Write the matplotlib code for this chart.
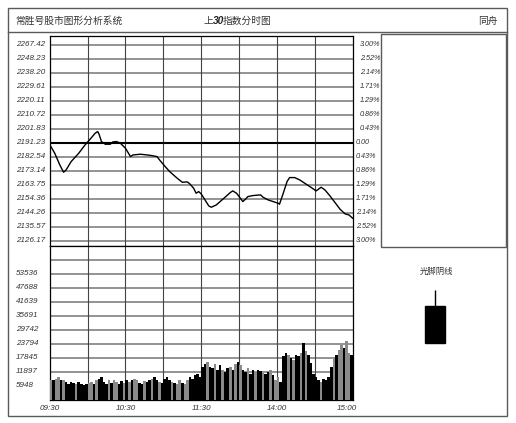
import matplotlib
matplotlib.use('Agg')
import matplotlib.pyplot as plt
from matplotlib.transforms import blended_transform_factory
from matplotlib.patches import Rectangle
from matplotlib.lines import Line2D

plt.rcParams['font.family'] = ['Liberation Sans', 'Noto Sans CJK SC', 'DejaVu Sans']

# ---------------- data ----------------
price_left_labels = ['2267.42', '2248.23', '2238.20', '2229.61', '2220.11', '2210.72', '2201.83',
                     '2191.23', '2182.54', '2173.14', '2163.75', '2154.36', '2144.26', '2135.57', '2126.17']
pct_labels = ['3.00%', '2.52%', '2.14%', '1.71%', '1.29%', '0.86%', '0.43%',
              '0.00', '0.43%', '0.86%', '1.29%', '1.71%', '2.14%', '2.52%', '3.00%']
prev_close = 2191.23
price_step = 9.395
vol_step = 5948
vol_labels = ['53536', '47688', '41639', '35691', '29742', '23794', '17845', '11897', '5948']
time_labels = ['09:30', '10:30', '11:30', '14:00', '15:00']
time_label_pos = [0, 60, 120, 180, 240]

time_min = [0, 4, 8, 11, 13, 17, 23, 28, 32, 36, 38, 39, 41, 44, 48, 50, 53, 56, 60, 64, 66, 72,
            79, 85, 87, 91, 95, 101, 105, 109, 111, 114, 116, 118, 120, 123, 126, 128, 132, 138,
            143, 145, 148, 151, 153, 155, 157, 161, 167, 169, 173, 177, 181, 182, 185, 188, 190,
            194, 198, 204, 208, 211, 215, 218, 222, 226, 230, 234, 237, 240]
price = [2189.98, 2184.16, 2176.33, 2171.41, 2172.97, 2178.57, 2184.16, 2189.75, 2193.56,
         2197.58, 2198.70, 2197.13, 2191.99, 2190.20, 2190.20, 2191.77, 2191.99, 2190.87,
         2187.52, 2181.92, 2183.04, 2183.49, 2182.82, 2181.92, 2179.69, 2175.66, 2171.86,
         2167.38, 2164.70, 2164.92, 2163.58, 2160.67, 2157.32, 2158.43, 2156.87, 2152.84,
         2148.81, 2147.92, 2149.49, 2153.96, 2157.76, 2158.88, 2157.32, 2153.96, 2151.72,
         2153.29, 2155.08, 2155.75, 2156.20, 2154.63, 2152.84, 2151.72, 2150.60, 2149.93,
         2157.32, 2165.14, 2167.83, 2167.83, 2166.26, 2162.91, 2160.67, 2158.88, 2161.34,
         2159.55, 2155.52, 2151.05, 2146.58, 2143.45, 2142.77, 2140.54]

# volume per 2-minute bin (120 bins)
volume = [8200, 8500, 8900, 9600, 8500, 8200, 7500,
          6800, 7500, 7100, 6500, 7500, 6800, 6100, 6500,
          7100, 7500, 6800, 8200, 8900, 9600,
          7500, 6800, 8200, 7100, 8500, 7500, 6800, 7900, 7100,
          8200, 7500, 8500, 8900, 8200, 7100, 6800, 7900, 7500, 8200, 8900, 9600, 8200, 7500, 7100,
          8900, 9600, 8200, 7500, 7100, 6800, 8200, 7100,
          6800, 8200, 9600, 8900, 10300, 11000, 9600,
          13900, 15300, 16000, 13900, 13200, 15300, 12500, 14600,
          12500, 11800, 13200, 13900, 12500, 15300, 16000,
          14600, 12500, 11800, 13200, 11000, 12500, 11800, 12700, 12200, 11300, 11000, 11800, 12500, 10300, 8200,
          9600, 7500,
          18400, 19800, 19100, 17700, 17000, 19100, 18400, 19800, 24000, 20500, 19100, 15600, 11000,
          9600, 8200, 7500, 8900, 8200, 9600, 13900,
          17700, 19100, 21200, 23300, 21900, 24700, 19800, 19100]
vol_color_flags = ("gkggkgk" "kkkgkkkk" "ggkgkk" "kkgkggkkg" "kgkggkkgkkgkkgk" "kkkgkggk"
                   "ggkkkkk" "kkgkkgkk" "gkkgkgk" "gkkgkkgkkgkkgkg" "gk" "kkgkgkkgkgkkk"
                   "kkgkkkk" "gkggkggk")

candle_title = '光脚阴线'
candle_open, candle_high, candle_low, candle_close = 3.7, 5.3, 0.0, 0.0

# ---------------- figure ----------------
W, H = 516, 423
fig = plt.figure(figsize=(W / 100, H / 100), dpi=100)


def fx(px):
    return px / W


def fy(py):
    return 1 - py / H


def axes_px(x0, y0, x1, y1):
    return fig.add_axes([x0 / W, 1 - y1 / H, (x1 - x0) / W, (y1 - y0) / H])


frame_c = '#5a5a5a'
fig.add_artist(Rectangle((fx(8), fy(416)), (507 - 8) / W, (416 - 8) / H, transform=fig.transFigure,
                         fill=False, ec=frame_c, lw=1.0))
fig.add_artist(Line2D([fx(8), fx(507)], [fy(32), fy(32)], transform=fig.transFigure, color=frame_c, lw=1.0))
fig.add_artist(Rectangle((fx(381), fy(246.7)), (505.7 - 381) / W, (246.7 - 34) / H,
                         transform=fig.transFigure, fill=False, ec=frame_c, lw=1.0))

# title bar
fig.text(fx(15), fy(21), '常胜号股市图形分析系统', fontsize=7, color='#333333',
         family=['Noto Sans CJK SC'], ha='left', va='center')
fig.text(fx(203), fy(21), '上', fontsize=7, color='#333333', family=['Noto Sans CJK SC'], ha='left', va='center')
fig.text(fx(212.5), fy(21), '30', fontsize=7.3, color='#222222', fontweight='bold', style='italic',
         ha='left', va='center')
fig.text(fx(223), fy(21), '指数分时图', fontsize=7, color='#333333', family=['Noto Sans CJK SC'],
         ha='left', va='center')
fig.text(fx(498), fy(21), '同舟', fontsize=7, color='#333333', family=['Noto Sans CJK SC'],
         ha='right', va='center')

grid_h = '#8a8a8a'
grid_v = '#444444'

# price panel
axp = axes_px(49.7, 36, 352.7, 245.7)
ytop = prev_close + (142.7 - 36) / 14 * price_step
ybot = prev_close - (245.7 - 142.7) / 14 * price_step
axp.set_xlim(0, 240)
axp.set_ylim(ybot, ytop)
axp.set_xticks([])
axp.set_yticks([])
tick_vals = [prev_close + k * price_step for k in range(7, -8, -1)]
for v in tick_vals:
    if abs(v - prev_close) < 1e-6:
        axp.axhline(v, color='black', lw=1.5, zorder=2)
    else:
        axp.axhline(v, color=grid_h, lw=1.3, zorder=1)
for j in range(1, 8):
    axp.axvline(30 * j, color=grid_v, lw=0.8, zorder=1)
axp.plot(time_min, price, color='black', lw=1.0, zorder=3)
for s in axp.spines.values():
    s.set_color('black')
    s.set_linewidth(0.9)

tl = blended_transform_factory(fig.transFigure, axp.transData)
for v, lab in zip(tick_vals, price_left_labels):
    fig.text(fx(16), v, lab, transform=tl, fontsize=5.8, style='italic', color='#333333',
             ha='left', va='center')
for i, (v, lab) in enumerate(zip(tick_vals, pct_labels)):
    if i < 7:
        fig.text(fx(380.5), v, lab, transform=tl, fontsize=5.2, style='italic', color='#333333',
                 ha='right', va='center')
    else:
        fig.text(fx(356), v, lab, transform=tl, fontsize=5.2, style='italic', color='#333333',
                 ha='left', va='center')

# volume panel
axv = axes_px(49.7, 245.7, 352.7, 399.5)
axv.set_xlim(0, 240)
axv.set_ylim(0, 11 * vol_step)
axv.set_xticks([])
axv.set_yticks([])
for k in range(1, 11):
    axv.axhline(k * vol_step, color=grid_h, lw=1.3, zorder=1)
for j in range(1, 8):
    axv.axvline(30 * j, color=grid_v, lw=0.8, zorder=1)
xs = [2 * i + 1 for i in range(len(volume))]
cols = ['black' if c == 'k' else '#8a8a8a' for c in vol_color_flags]
axv.bar(xs, volume, width=2.0, color=cols, edgecolor='none', linewidth=0, zorder=3)
for s in axv.spines.values():
    s.set_color('black')
    s.set_linewidth(0.9)

tv = blended_transform_factory(fig.transFigure, axv.transData)
for i, lab in enumerate(vol_labels):
    fig.text(fx(16), (9 - i) * vol_step, lab, transform=tv, fontsize=5.8, style='italic',
             color='#333333', ha='left', va='center')

tt = blended_transform_factory(axv.transData, fig.transFigure)
for pos, lab in zip(time_label_pos, time_labels):
    ha = 'right' if pos == 240 else 'center'
    xoff = 4 if pos == 240 else 0
    fig.text(pos + xoff * 240 / 303, fy(408.3), lab, transform=tt, fontsize=5.8, style='italic',
             color='#333333', ha=ha, va='center')

# candle panel
fig.text(fx(436.7), fy(271.7), candle_title, fontsize=6, color='#333333',
         family=['Noto Sans CJK SC'], ha='center', va='center')
axc = axes_px(410, 279.9, 460, 353.4)
axc.set_xlim(-1, 1)
axc.set_ylim(-1, 6.3)
axc.axis('off')
axc.vlines(0, max(candle_open, candle_close), candle_high, color='black', lw=1.0)
axc.vlines(0, candle_low, min(candle_open, candle_close), color='black', lw=1.0)
axc.bar(0, candle_open - candle_close, bottom=candle_close, width=0.8, color='black', edgecolor='black')

fig.savefig('out.png', dpi=100)
